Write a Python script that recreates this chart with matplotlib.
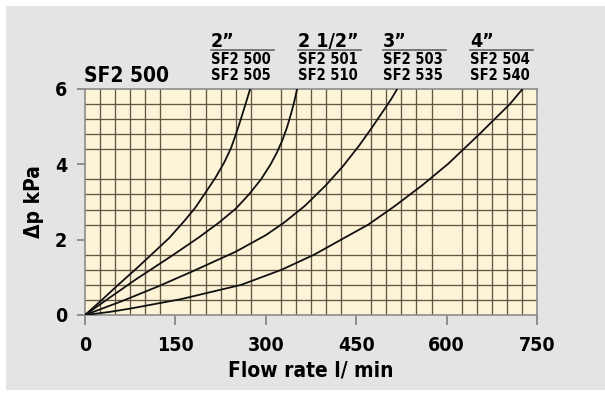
import matplotlib
matplotlib.use("Agg")
import matplotlib.pyplot as plt
from matplotlib.patches import Rectangle
from matplotlib.ticker import MultipleLocator

# Pressure drop curves for the SF2 500 series (flow in l/min, drop in kPa)
flow_2in = [0, 28, 55, 83, 110, 140, 165, 183, 200, 217, 231, 242, 250, 258, 266, 274]
dp_2in = [0, 0.4, 0.8, 1.2, 1.6, 2.05, 2.5, 2.85, 3.25, 3.66, 4.05, 4.42, 4.78, 5.17, 5.58, 6.0]

flow_2_5in = [0, 40, 83, 142, 188, 222, 250, 272, 292, 308, 318, 327, 335, 342, 347, 352]
dp_2_5in = [0, 0.45, 0.93, 1.55, 2.05, 2.45, 2.82, 3.2, 3.6, 4.0, 4.3, 4.62, 4.97, 5.35, 5.65, 6.0]

flow_3in = [0, 60, 120, 180, 250, 300, 330, 365, 400, 428, 455, 475, 495, 508, 518]
dp_3in = [0, 0.36, 0.75, 1.17, 1.68, 2.12, 2.45, 2.9, 3.45, 3.95, 4.5, 4.95, 5.42, 5.73, 6.0]

flow_4in = [0, 40, 75, 159, 259, 326, 380, 425, 470, 513, 560, 603, 653, 705, 726]
dp_4in = [0, 0.08, 0.17, 0.42, 0.8, 1.2, 1.6, 2.0, 2.4, 2.88, 3.45, 4.02, 4.78, 5.6, 6.0]

x_ticks = [0, 150, 300, 450, 600, 750]
y_ticks = [0, 2, 4, 6]

sizes = ["2\u201d", "2 1/2\u201d", "3\u201d", "4\u201d"]
models = [("SF2 500", "SF2 505"), ("SF2 501", "SF2 510"),
          ("SF2 503", "SF2 535"), ("SF2 504", "SF2 540")]

plt.rcParams["font.family"] = ["DejaVu Sans"]
plt.rcParams["font.stretch"] = "condensed"
plt.rcParams["font.weight"] = "bold"
plt.rcParams["axes.labelweight"] = "bold"

fig = plt.figure(figsize=(6.05, 3.96), dpi=100)
fig.patch.set_facecolor("white")
fig.patches.append(Rectangle((6 / 605, 6 / 396), 1, 384 / 396,
                             transform=fig.transFigure, facecolor="#e4e4e4",
                             edgecolor="none", zorder=-10))

ax = fig.add_axes([85 / 605, 81 / 396, 452 / 605, 226 / 396])
ax.set_facecolor("#fdf4d7")

for fx, dp in [(flow_2in, dp_2in), (flow_2_5in, dp_2_5in),
               (flow_3in, dp_3in), (flow_4in, dp_4in)]:
    ax.plot(fx, dp, color="#111111", lw=1.3, zorder=3,
            solid_joinstyle="round", solid_capstyle="round")

ax.set_xlim(0, 750)
ax.set_ylim(0, 6)
ax.set_xticks(x_ticks)
ax.set_yticks(y_ticks)
ax.xaxis.set_minor_locator(MultipleLocator(25))
ax.yaxis.set_minor_locator(MultipleLocator(0.4))
ax.grid(which="minor", color="#625744", lw=0.95, zorder=1)
ax.grid(which="major", visible=False)
ax.set_axisbelow(True)

for s in ax.spines.values():
    s.set_color("#8c8c8c")
    s.set_linewidth(1.2)

ax.tick_params(axis="both", which="minor", length=0)
ax.tick_params(axis="x", which="major", length=7, width=1.1, color="#777777",
               pad=8, labelsize=14)
ax.tick_params(axis="y", which="major", length=6, width=1.1, color="#777777",
               pad=7, labelsize=14)

ax.set_xlabel("Flow rate l/ min", fontsize=15, fontweight="bold", labelpad=4)
ax.set_ylabel("\u0394p kPa", fontsize=15, fontweight="bold", labelpad=8)

fig.text(84 / 605, 1 - 82 / 396, "SF2 500", fontsize=15,
         ha="left", va="baseline")

header_x = [211, 298, 383, 470]
for hx, size, (m1, m2) in zip(header_x, sizes, models):
    fig.text(hx / 605, 1 - 47 / 396, size, fontsize=14,
             ha="left", va="baseline")
    fig.add_artist(plt.Line2D([hx / 605, (hx + 63) / 605],
                              [1 - 50 / 396, 1 - 50 / 396],
                              transform=fig.transFigure, color="#666666", lw=1.2))
    fig.text(hx / 605, 1 - 64 / 396, m1, fontsize=10.5,
             ha="left", va="baseline")
    fig.text(hx / 605, 1 - 80 / 396, m2, fontsize=10.5,
             ha="left", va="baseline")

fig.savefig("out.png", dpi=100)
